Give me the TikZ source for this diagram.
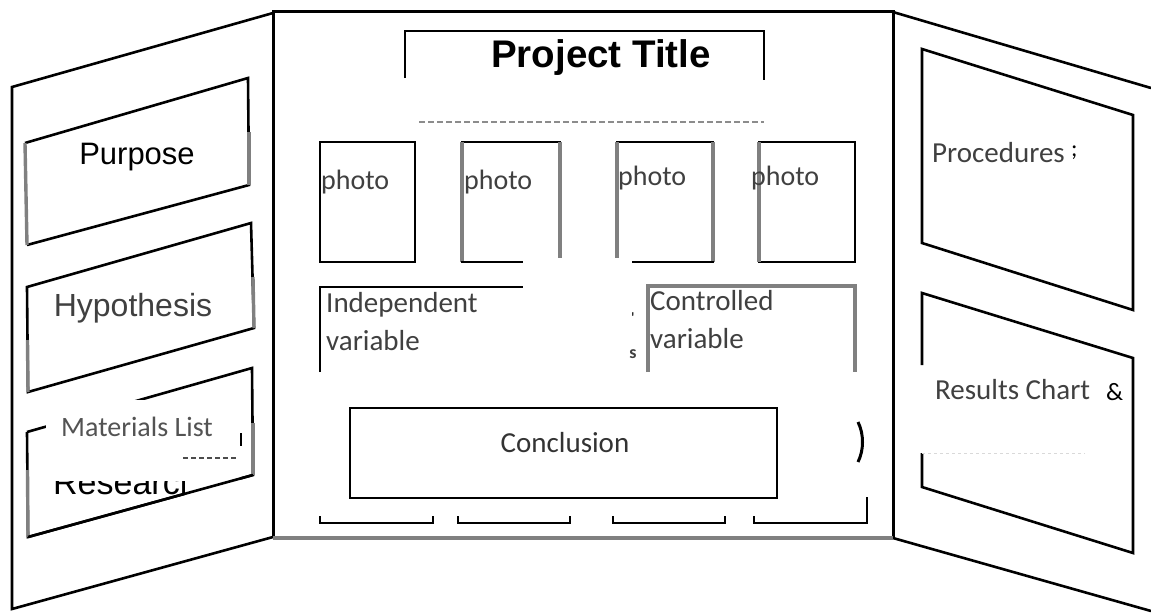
\documentclass[tikz,border=0pt]{standalone}
\usepackage{fontspec}
\setmainfont{Liberation Sans}
\newfontfamily\calfont{Carlito}
\newfontfamily\arfont{Liberation Sans}
\definecolor{txtgray}{HTML}{404040}
\definecolor{lngray}{HTML}{808080}
\begin{document}
\begin{tikzpicture}[x=1pt,y=-1pt,
  bl/.style={line width=2.6pt, black, line join=miter},
  gr/.style={line width=3.4pt, lngray},
  ar/.style={inner sep=0pt, font=\arfont\fontsize{31}{36}\selectfont},
  ca/.style={inner sep=0pt, font=\calfont\fontsize{29}{38}\selectfont, text=txtgray},
  ph/.style={inner sep=0pt, anchor=west, font=\calfont\fontsize{28}{34}\selectfont, text=txtgray},
  wipe/.style={fill=white, draw=none}]
\useasboundingbox (0,0) rectangle (1151,614);
\fill[white] (0,0) rectangle (1151,614);

% ---------------- left panel ----------------
\draw[bl] (273,13) -- (12,87) -- (12,609) -- (273,537);

% Purpose box
\draw[bl] (25,143) -- (248,78) -- (249,185) -- (27,245);
\draw[gr] (25,143) -- (27,245);
\draw[gr] (249,132) -- (249,185);
\node[ar] (purpose) at (137,157) {Purpose};

% Hypothesis box
\draw[bl] (28,392) -- (27,287) -- (251,223) -- (254,328) -- cycle;
\draw[gr] (27.5,340) -- (28,392);
\draw[gr] (253,277) -- (254,328);
\node[ar, text=txtgray, font=\arfont\fontsize{32}{36}\selectfont] (hyp) at (133,308) {Hypothesis};

% Materials / Research box
\draw[bl] (27,432) -- (28,537) -- (253,475) -- (252,368) -- (27,432);
\draw[gr] (27.5,470) -- (28,537);
\draw[gr] (253,423) -- (253,475);
\node[ar, anchor=base west, font=\arfont\fontsize{34}{36}\selectfont] (research) at (53,494) {Research};
\fill[wipe] (46,400) rectangle (240,481);
\fill[wipe] (185,457) rectangle (238,500);
\draw[bl] (28,537) -- (253,475);
\node[ca, text=txtgray!90, font=\calfont\fontsize{28}{34}\selectfont] (materials) at (137,427) {Materials List};
\draw[black!70, line width=1.2pt, dash pattern=on 5pt off 3pt] (183,458) -- (237,458);
\draw[black, line width=1.4pt] (241,433) -- (241,446);

% ---------------- right panel ----------------
\draw[bl] (893,12) -- (1151,88);
\draw[bl] (893,538) -- (1151,611);

% Procedures box
\draw[bl] (922,243) -- (922,49) -- (1133,115) -- (1133,310) -- cycle;
\node[ca, anchor=west] (proc) at (932,153) {Procedures};
\node[ca, anchor=west, text=black, font=\calfont\fontsize{24}{28}\selectfont] (semi) at (1071,153) {;};

% Results box
\draw[bl] (922,365) -- (922,293) -- (1133,358) -- (1133,553) -- (922,487) -- (922,453);
\node[ca, anchor=west] (results) at (935,390) {Results Chart};
\node[ca, anchor=west, text=black, font=\calfont\fontsize{25}{28}\selectfont] (amp) at (1106,392) {\&};
\draw[black!15, dashed, line width=1pt] (922,453) -- (1085,453);

% ---------------- central panel ----------------
\draw[bl, line width=3pt] (273,538) -- (273,11) -- (893,11) -- (893,538);
\draw[gr, line width=4.5pt] (273,538) -- (893,538);

% title
\draw[bl] (405,78) -- (405,31) -- (764,31) -- (764,80);
\draw[black!45, line width=1.4pt, dash pattern=on 6pt off 3pt] (419,122) -- (764,122);
\node[inner sep=0pt, font=\arfont\bfseries\fontsize{38.5}{40}\selectfont] (title) at (601,58) {Project Title};

% photos
\draw[bl] (320,142) rectangle (415,262);
\node[ph] (p1) at (321,182) {photo};

\draw[bl] (461,142) -- (561,142);
\draw[gr] (462,142) -- (462,262);
\draw[gr] (560,142) -- (560,258);
\draw[bl] (461,262) -- (523,262);
\node[ph] (p2) at (464,182) {photo};

\draw[bl] (616,142) -- (714,142);
\draw[gr] (617,142) -- (617,258);
\draw[gr] (713,142) -- (713,262);
\draw[bl] (632,262) -- (714,262);
\node[ph] (p3) at (618,178) {photo};

\draw[bl] (758,142) -- (855,142) -- (855,262) -- (758,262);
\draw[gr] (759,142) -- (759,262);
\node[ph] (p4) at (751,178) {photo};

% variables
\draw[bl] (320,372) -- (320,287) -- (523,287);
\node[ca, anchor=north west, align=left] (indep) at (326,292) {Independent\\variable};

\draw[gr, line width=4pt] (648,372) -- (648,286) -- (855,286) -- (855,372);
\node[ca, anchor=north west, align=left] (ctrl) at (650,290) {Controlled\\variable};

\node[inner sep=0pt, font=\calfont\fontsize{16}{18}\selectfont] (tick) at (633,318) {'};
\node[inner sep=0pt, font=\calfont\bfseries\fontsize{18}{20}\selectfont, text=txtgray] (s) at (633,354) {s};

% conclusion
\draw[black, line width=2pt] (350,408) rectangle (777,498);
\node[ca, text=black!80] (concl) at (565,443) {Conclusion};
\draw[bl, line width=3pt] (858,422) .. controls (864,434) and (864,450) .. (858,462);

% bottom brackets
\draw[bl] (320,516) -- (320,523) -- (433,523) -- (433,516);
\draw[bl] (458,516) -- (458,523) -- (570,523) -- (570,516);
\draw[bl] (613,516) -- (613,523) -- (725,523) -- (725,516);
\draw[bl] (754,516) -- (754,523) -- (867,523) -- (867,497);
\end{tikzpicture}
\end{document}
